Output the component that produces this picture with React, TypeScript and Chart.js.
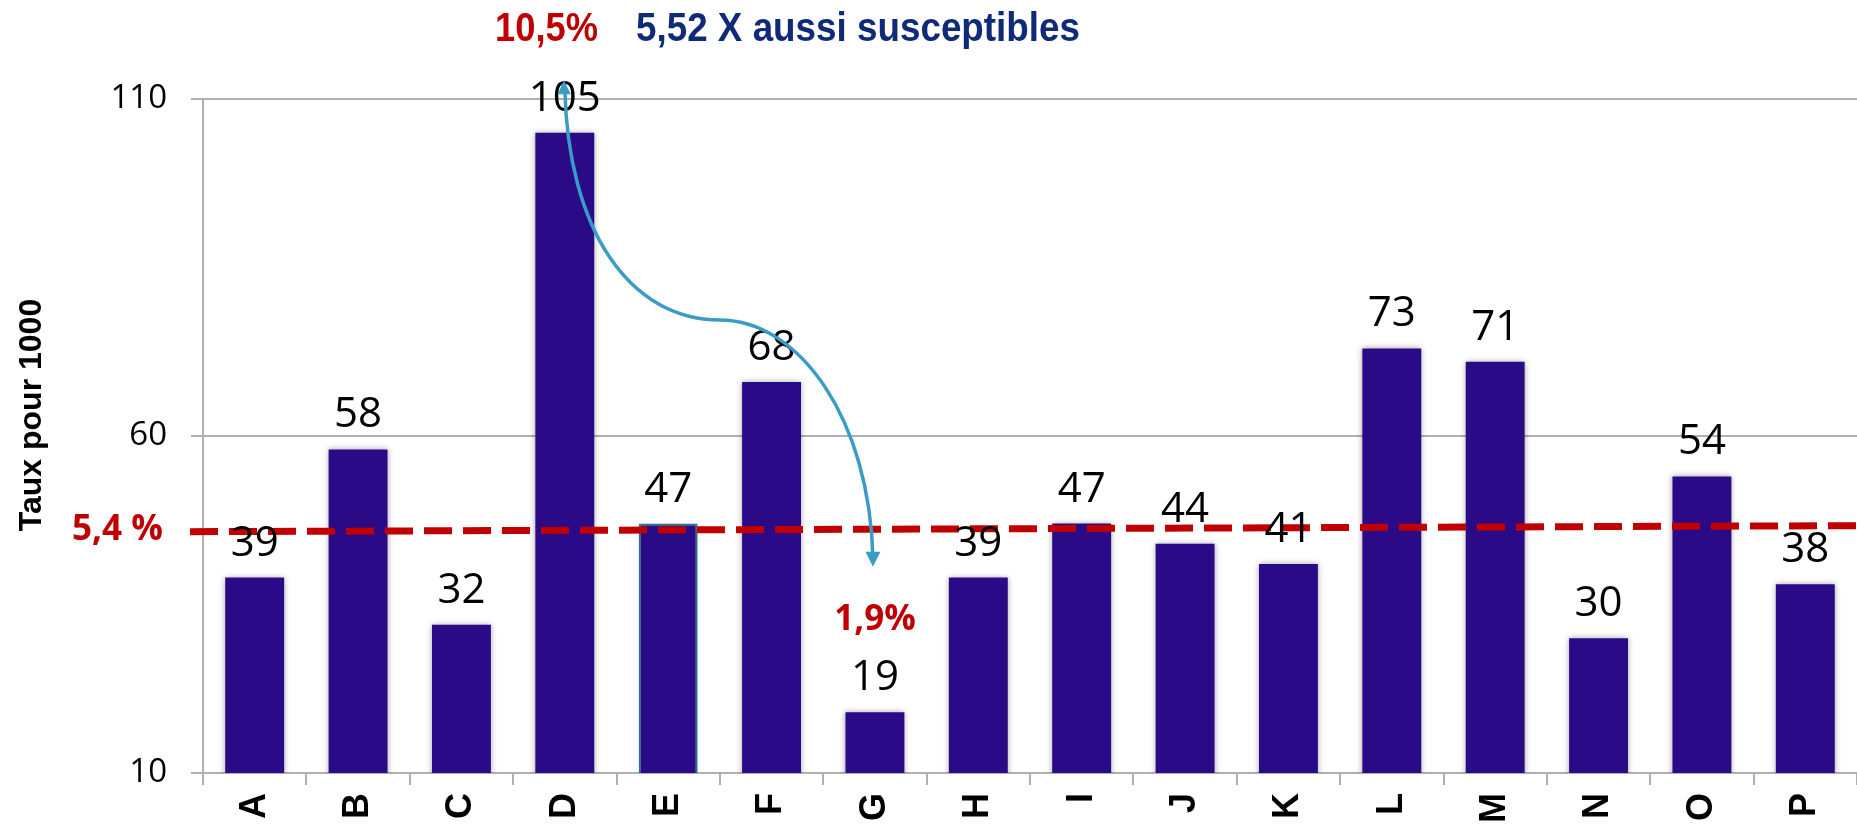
import React, { useEffect, useRef } from 'react';
import { Chart, registerables } from 'chart.js';

Chart.register(...registerables);

const categories = ['A', 'B', 'C', 'D', 'E', 'F', 'G', 'H', 'I', 'J', 'K', 'L', 'M', 'N', 'O', 'P'];
const rates = [39, 58, 32, 105, 47, 68, 19, 39, 47, 44, 41, 73, 71, 30, 54, 38];
const yTickValues = [10, 60, 110];
const averageLineValues = [45.8, 46.7]; // left end, right end
const highlightedIndex = 4; // outlined bar (E)
const arrowStart = { index: 3, value: 112.8 };
const arrowMid = { index: 4.5, value: 77.2 };
const arrowEnd = { index: 6, value: 40.6 };
const yTitle = 'Taux pour 1000';
const averageText = '5,4 %';
const topRedText = '10,5%';
const topBlueText = '5,52 X aussi susceptibles';
const lowText = '1,9%';
const lowTextIndex = 6;

const BAR_COLOR = '#2B0A87';
const RED = '#C00000';
const NAVY = '#0E2A78';
const ARROW = '#3A9BC6';
const GRID = '#B0B0B0';

function fitText(ctx: CanvasRenderingContext2D, text: string, left: number, baseline: number, width: number) {
  const w = ctx.measureText(text).width;
  ctx.save();
  ctx.translate(left, baseline);
  ctx.scale(width / w, 1);
  ctx.textAlign = 'left';
  ctx.fillText(text, 0, 0);
  ctx.restore();
}

const overlayPlugin = {
  id: 'overlay',
  beforeDatasetsDraw(chart: any) {
    const ctx = chart.ctx;
    ctx.save();
    ctx.shadowColor = 'rgba(0,0,0,0.35)';
    ctx.shadowBlur = 6;
    ctx.shadowOffsetX = 0;
    ctx.shadowOffsetY = 0;
  },
  afterDatasetsDraw(chart: any) {
    const ctx = chart.ctx;
    ctx.restore();
    const x = chart.scales.x;
    const y = chart.scales.y;
    const area = chart.chartArea;

    // average dashed line
    ctx.save();
    ctx.strokeStyle = RED;
    ctx.lineWidth = 7;
    ctx.setLineDash([28, 11]);
    ctx.beginPath();
    ctx.moveTo(area.left - 13, y.getPixelForValue(averageLineValues[0]));
    ctx.lineTo(area.right, y.getPixelForValue(averageLineValues[1]));
    ctx.stroke();
    ctx.restore();

    // data labels
    const meta = chart.getDatasetMeta(0);
    ctx.save();
    ctx.fillStyle = '#000';
    ctx.font = '42px "Open Sans", "Noto Sans", sans-serif';
    ctx.textAlign = 'center';
    ctx.textBaseline = 'alphabetic';
    meta.data.forEach((bar: any, i: number) => {
      ctx.fillText(String(rates[i]), bar.x, bar.y - 22);
    });
    ctx.restore();

    // curved arrow
    const sx = x.getPixelForValue(arrowStart.index);
    const sy = y.getPixelForValue(arrowStart.value);
    const mx = x.getPixelForValue(arrowMid.index);
    const my = y.getPixelForValue(arrowMid.value);
    const ex = x.getPixelForValue(arrowEnd.index) - 2;
    const ey = y.getPixelForValue(arrowEnd.value);
    ctx.save();
    ctx.strokeStyle = ARROW;
    ctx.fillStyle = ARROW;
    ctx.lineWidth = 3.5;
    ctx.beginPath();
    ctx.moveTo(sx, sy + 8);
    ctx.bezierCurveTo(sx + 3, sy + 150, mx - 90, my, mx, my);
    ctx.bezierCurveTo(mx + 80, my, ex - 3, my + 100, ex, ey - 8);
    ctx.stroke();
    ctx.beginPath();
    ctx.moveTo(sx - 1, sy);
    ctx.lineTo(sx - 7, sy + 14);
    ctx.lineTo(sx + 6, sy + 14);
    ctx.closePath();
    ctx.fill();
    ctx.beginPath();
    ctx.moveTo(ex, ey);
    ctx.lineTo(ex - 7.5, ey - 15);
    ctx.lineTo(ex + 7.5, ey - 15);
    ctx.closePath();
    ctx.fill();
    ctx.restore();

    // text annotations
    ctx.save();
    ctx.textBaseline = 'alphabetic';
    ctx.font = 'bold 40px "Liberation Sans", Arial, sans-serif';
    ctx.fillStyle = RED;
    fitText(ctx, topRedText, 495, 41, 103);
    ctx.fillStyle = NAVY;
    fitText(ctx, topBlueText, 636, 41, 444);

    ctx.font = 'bold 35px "Open Sans", "Noto Sans", sans-serif';
    ctx.fillStyle = RED;
    ctx.textAlign = 'center';
    ctx.fillText(lowText, x.getPixelForValue(lowTextIndex), 630);

    ctx.font = 'bold 35px "Open Sans", "Noto Sans", sans-serif';
    fitText(ctx, averageText, 72, 540, 91);

    ctx.translate(32, 415);
    ctx.rotate(-Math.PI / 2);
    ctx.font = 'bold 32px "Liberation Sans", Arial, sans-serif';
    ctx.fillStyle = '#000';
    ctx.textAlign = 'center';
    ctx.textBaseline = 'middle';
    ctx.fillText(yTitle, 0, 0);
    ctx.restore();
  },
};

export default function App() {
  const canvasRef = useRef<HTMLCanvasElement | null>(null);

  useEffect(() => {
    if (!canvasRef.current) return;
    const chart = new Chart(canvasRef.current, {
      type: 'bar',
      data: {
        labels: categories,
        datasets: [
          {
            data: rates,
            backgroundColor: BAR_COLOR,
            borderColor: rates.map((_, i) => (i === highlightedIndex ? '#31859C' : BAR_COLOR)),
            borderWidth: rates.map((_, i) => (i === highlightedIndex ? 2 : 0)),
            barPercentage: 0.57,
            categoryPercentage: 1,
          },
        ],
      },
      options: {
        responsive: false,
        animation: false,
        layout: { padding: { top: 99, right: 0, left: 0, bottom: 0 } },
        plugins: {
          legend: { display: false },
          tooltip: { enabled: false },
          title: { display: false },
        },
        scales: {
          x: {
            type: 'category',
            offset: true,
            grid: {
              display: true,
              drawOnChartArea: false,
              drawTicks: true,
              tickLength: 12,
              color: GRID,
              lineWidth: 2,
              offset: true,
            },
            border: { display: true, color: GRID, width: 2 },
            ticks: {
              autoSkip: false,
              minRotation: 90,
              maxRotation: 90,
              padding: 8,
              color: '#000',
              font: { family: '"Liberation Sans", Arial, sans-serif', weight: 'bold', size: 36 },
            },
            afterFit: (s: any) => {
              s.height = 55;
            },
          },
          y: {
            min: 10,
            max: 110,
            afterBuildTicks: (s: any) => {
              s.ticks = yTickValues.map((v) => ({ value: v }));
            },
            grid: {
              color: GRID,
              lineWidth: 2,
              drawTicks: true,
              tickLength: 12,
            },
            border: { display: true, color: GRID, width: 2 },
            ticks: {
              padding: 24,
              color: '#000',
              font: { family: '"Open Sans", "Noto Sans", sans-serif', size: 33 },
            },
            afterFit: (s: any) => {
              s.width = 203;
            },
          },
        },
      },
      plugins: [overlayPlugin],
    } as any);
    return () => chart.destroy();
  }, []);

  return (
    <div style={{ position: 'fixed', left: 0, top: 0, width: 1857, height: 828 }}>
      <canvas ref={canvasRef} width={1857} height={828} style={{ display: 'block' }} />
    </div>
  );
}
